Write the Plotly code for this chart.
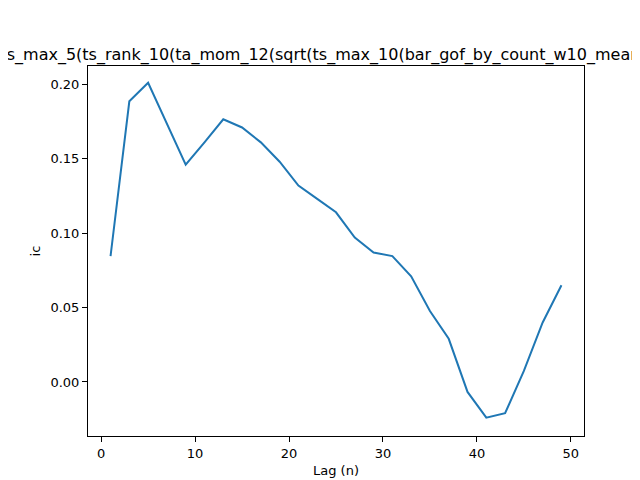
import plotly.graph_objects as go

lags = list(range(1, 50, 2))
ic = [0.0846, 0.1886, 0.201, 0.174, 0.146, 0.161, 0.1765, 0.171, 0.161, 0.148,
      0.132, 0.123, 0.114, 0.097, 0.087, 0.0846, 0.071, 0.0477, 0.029, -0.0067,
      -0.024, -0.021, 0.0074, 0.040, 0.065]
title = "ts_max_5(ts_rank_10(ta_mom_12(sqrt(ts_max_10(bar_gof_by_count_w10_mean)))))"

fig = go.Figure(go.Scatter(x=lags, y=ic, mode="lines",
                           line=dict(color="#1f77b4", width=2)))

axis = dict(showline=True, linecolor="black", linewidth=1, mirror=True,
            ticks="outside", ticklen=5, tickcolor="black", showgrid=False,
            zeroline=False, automargin=False,
            tickfont=dict(size=13, color="black"))
fig.update_layout(
    width=640, height=480, plot_bgcolor="white", paper_bgcolor="white",
    margin=dict(l=80, r=64, t=58, b=52),
    font=dict(family="DejaVu Sans", size=13, color="black"),
    title=dict(text=title, x=0.5, xref="paper", y=1, yref="paper",
               yanchor="bottom", pad=dict(b=6), automargin=False,
               font=dict(size=16)),
    xaxis=dict(axis, range=[-1.4, 51.4], tickvals=[0, 10, 20, 30, 40, 50],
               title=dict(text="Lag (n)", standoff=6, font=dict(size=13))),
    yaxis=dict(axis, range=[-0.0363, 0.2123],
               tickvals=[0.0, 0.05, 0.10, 0.15, 0.20],
               ticktext=["0.00", "0.05", "0.10", "0.15", "0.20"],
               title=dict(text="ic", standoff=6, font=dict(size=13))),
    showlegend=False,
)
fig.write_html("out.html")
